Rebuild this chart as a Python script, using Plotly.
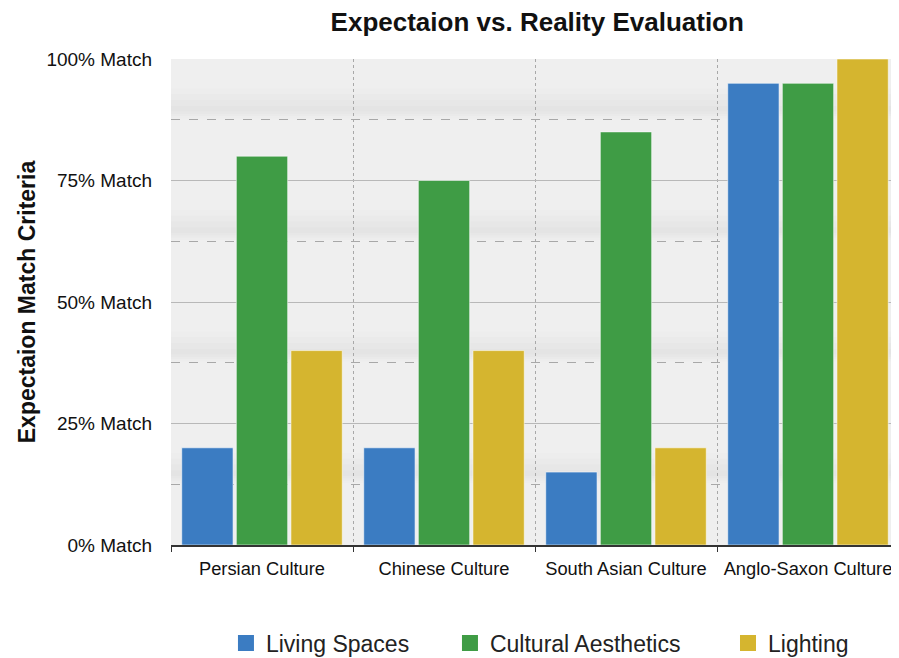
import plotly.graph_objects as go

categories = ["Persian Culture", "Chinese Culture", "South Asian Culture", "Anglo-Saxon Culture"]
living_spaces = [20, 20, 15, 95]
cultural_aesthetics = [80, 75, 85, 95]
lighting = [40, 40, 20, 100]
tick_vals = [0, 25, 50, 75, 100]
tick_text = ["0% Match", "25% Match", "50% Match", "75% Match", "100% Match"]

series = [
    ("Living Spaces", living_spaces, "#3b7cc2", "legend", 0.0755),
    ("Cultural Aesthetics", cultural_aesthetics, "#3f9c45", "legend2", 0.3832),
    ("Lighting", lighting, "#d5b52f", "legend3", 0.7651),
]

fig = go.Figure()
for name, vals, col, lg, lx in series:
    fig.add_trace(go.Bar(
        name=name, x=categories, y=vals, showlegend=False,
        marker=dict(color=col, line=dict(color="rgba(255,255,255,0.55)", width=1)),
    ))
for name, vals, col, lg, lx in series:
    fig.add_trace(go.Scatter(
        name=name, x=[None], y=[None], mode="markers", legend=lg, showlegend=True,
        marker=dict(symbol="square", size=19, color=col),
    ))

# soft shadow bands above the dashed minor grid lines
for yv in [12.5, 37.5, 62.5, 87.5]:
    for k, op in enumerate([0.008, 0.010, 0.012, 0.012]):
        fig.add_shape(type="rect", xref="paper", yref="y", x0=0, x1=1,
                      y0=yv + 0.2 + k * 0.5, y1=yv + 6.5 - k * 1.2,
                      fillcolor=f"rgba(0,0,0,{op})", line=dict(width=0), layer="below")

legend_common = dict(orientation="h", xanchor="left", y=-0.2016, yanchor="middle",
                     font=dict(size=23, color="#222"), itemsizing="trace",
                     bgcolor="rgba(0,0,0,0)")

fig.update_layout(
    width=891, height=650,
    margin=dict(l=163, r=0, t=51, b=113, autoexpand=False),
    paper_bgcolor="white", plot_bgcolor="#efefef",
    font=dict(family="Liberation Sans, Arial, sans-serif", color="#111"),
    title=dict(text="<b>Expectaion vs. Reality Evaluation</b>", x=0.594, xanchor="center",
               y=0.992, yanchor="top", font=dict(size=26, color="#111")),
    barmode="group", bargap=0.1, bargroupgap=0.06,
    showlegend=True,
    legend=dict(x=series[0][4], **legend_common),
    legend2=dict(x=series[1][4], **legend_common),
    legend3=dict(x=series[2][4], **legend_common),
)
fig.update_xaxes(
    type="category", tickson="boundaries", ticks="outside", ticklen=5, tickcolor="#333",
    showgrid=True, gridcolor="#a8a8a8", griddash="dot", gridwidth=1,
    showline=True, linecolor="#333", linewidth=2, tickangle=0,
    tickfont=dict(size=18.3, color="#111"), ticklabelstandoff=6,
)
fig.update_yaxes(
    range=[0, 100], tickvals=tick_vals, ticktext=tick_text,
    showgrid=True, gridcolor="#b8b8b8", gridwidth=1, zeroline=False,
    tickfont=dict(size=19, color="#111"), ticklabelstandoff=18,
    title=dict(text="<b>Expectaion Match Criteria</b>", font=dict(size=23, color="#111"), standoff=4),
    minor=dict(tickvals=[12.5, 37.5, 62.5, 87.5], showgrid=True, gridcolor="#a8a8a8", griddash="dash", gridwidth=1),
)

fig.write_html("out.html")
